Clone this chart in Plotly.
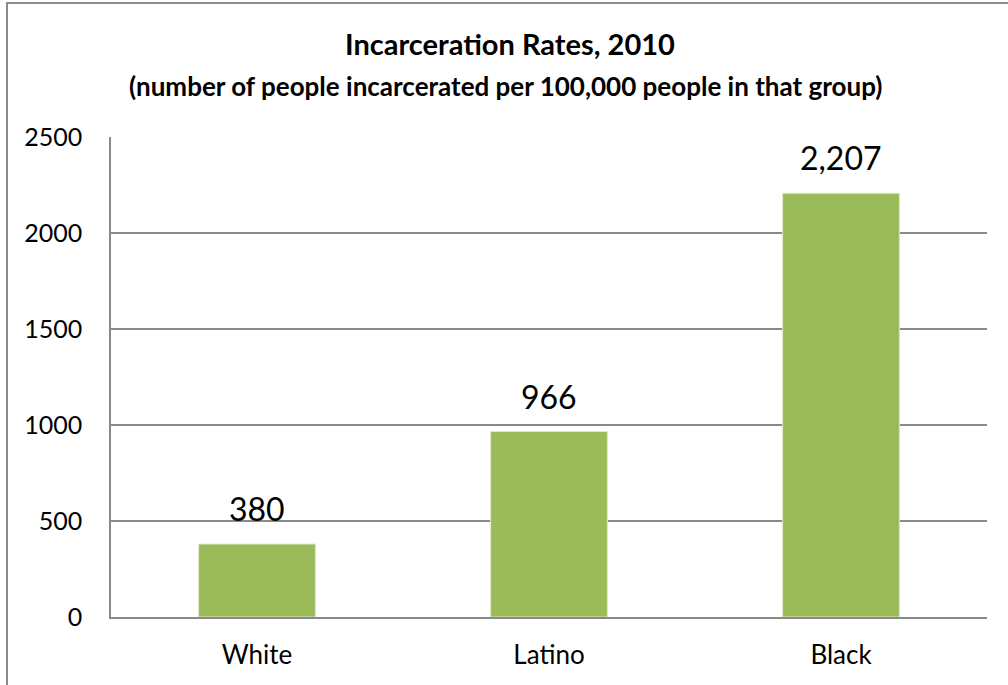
import plotly.graph_objects as go

categories = ["White", "Latino", "Black"]
values = [380, 966, 2207]
value_labels = ["380", "966", "2,207"]
y_ticks = [0, 500, 1000, 1500, 2000, 2500]

W, H = 1008, 685
L, R, T, B = 111, 21, 137, 68
FONT = "Lato, Calibri, Carlito, sans-serif"
GRID = "#8a8a8a"

fig = go.Figure()
fig.add_trace(go.Bar(
    x=categories, y=values,
    marker=dict(color="#9bbb59", line=dict(color="#dfe8cc", width=1)),
    width=0.4,
    hoverinfo="skip",
))

for c, v, t in zip(categories, values, value_labels):
    fig.add_annotation(x=c, y=v, text=t, showarrow=False, yanchor="bottom",
                       yshift=14, font=dict(family=FONT, size=32, color="#000"))

pw = W - L - R
ph = H - T - B
fig.add_shape(type="rect", xref="paper", yref="paper",
              x0=(7 - L) / pw, x1=(W + 20 - L) / pw,
              y0=-(H + 20 - T - ph) / ph - 0.0, y1=1 + (T - 3) / ph,
              line=dict(color="#8c8c8c", width=2), fillcolor="rgba(0,0,0,0)", layer="below")

fig.add_annotation(xref="paper", yref="paper", x=(510 - L) / pw, y=1 + (T - 44) / ph,
                   text="<b>Incarceration Rates, 2010</b>", showarrow=False,
                   xanchor="center", yanchor="middle",
                   font=dict(family=FONT, size=29, color="#000"))
fig.add_annotation(xref="paper", yref="paper", x=(505 - L) / pw, y=1 + (T - 86) / ph,
                   text="<b>(number of people incarcerated per 100,000 people in that group)</b>",
                   showarrow=False, xanchor="center", yanchor="middle",
                   font=dict(family=FONT, size=26, color="#000"))

fig.update_layout(
    width=W, height=H,
    margin=dict(l=L, r=R, t=T, b=B),
    paper_bgcolor="white", plot_bgcolor="white",
    showlegend=False,
    bargap=0.6,
    xaxis=dict(showline=True, linecolor=GRID, linewidth=1.5, showgrid=False,
               ticks="", tickfont=dict(family=FONT, size=26, color="#000"),
               ticklabelstandoff=14, fixedrange=True),
    yaxis=dict(range=[0, 2500], tickvals=y_ticks, ticktext=[str(v) for v in y_ticks],
               showgrid=True, gridcolor=GRID, gridwidth=1.5,
               showline=True, linecolor=GRID, linewidth=1.5, zeroline=False,
               ticks="", ticklabelstandoff=22,
               tickfont=dict(family=FONT, size=25, color="#000"), fixedrange=True),
)

fig.write_html("out.html")
